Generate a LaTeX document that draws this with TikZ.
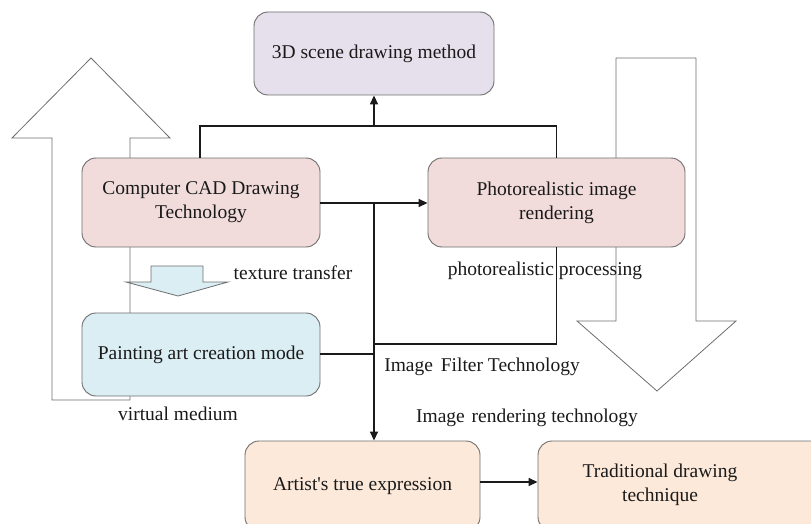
\documentclass[tikz,border=0pt]{standalone}
\usepackage{fontspec}
\setmainfont{Liberation Serif}
\usetikzlibrary{arrows.meta}

\definecolor{lavfill}{HTML}{E5E0EC}
\definecolor{rosefill}{HTML}{F2DCDB}
\definecolor{skyfill}{HTML}{DAEEF3}
\definecolor{peachfill}{HTML}{FDE9D9}
\definecolor{edgegray}{HTML}{6E6E6E}
\definecolor{inkblack}{HTML}{1A1A1A}

\tikzset{
  box/.style={draw=edgegray, line width=0.9pt, rounded corners=14pt, align=center,
              inner sep=0pt, text=inkblack, font=\fontsize{19.5}{24}\selectfont},
  lab/.style={inner sep=0pt, text=inkblack, font=\fontsize{19.5}{24}\selectfont},
  bigarrow/.style={draw=edgegray, fill=white, line width=0.8pt, line join=miter},
  conn/.style={draw=inkblack, line width=1.5pt},
  tipped/.style={conn, -{Triangle[length=9pt,width=8pt]}}
}

\begin{document}
\begin{tikzpicture}[x=1pt,y=-1pt]
\useasboundingbox (0,0) rectangle (811,524);
\clip (0,0) rectangle (811,524);

% hollow flow arrows behind the boxes
\draw[bigarrow] (52,400) -- (52,138) -- (12,138) -- (91,58) -- (170,138)
  -- (130,138) -- (130,400) -- cycle;
\draw[bigarrow] (616,58) -- (696,58) -- (696,321) -- (736,321) -- (657,391)
  -- (577,321) -- (616,321) -- cycle;

% boxes
\node[box, fill=lavfill, minimum width=240pt, minimum height=83pt] (scene) at (374,53.5)
  {3D scene drawing method};
\node[box, fill=rosefill, minimum width=238pt, minimum height=89pt] (cad) at (201,202.5)
  {Computer CAD Drawing\\Technology};
\node[box, fill=rosefill, minimum width=257pt, minimum height=89pt] (photo) at (556.5,202.5)
  {Photorealistic image\\rendering};
\node[box, fill=skyfill, minimum width=238pt, minimum height=83pt] (paint) at (201,354.5)
  {Painting art creation mode};
\node[box, fill=peachfill, minimum width=235pt, minimum height=90pt] (artist) at (362.5,486)
  {Artist\textquotesingle s true expression};
\node[box, fill=peachfill, minimum width=292pt, minimum height=90pt] (trad) at (684,486) {};
\node[lab, align=center] (tradtext) at (660,485) {Traditional drawing\\technique};

% texture transfer arrow
\draw[bigarrow, fill=skyfill] (151,266) -- (203,266) -- (203,282) -- (228,282)
  -- (178,296) -- (126,282) -- (151,282) -- cycle;

% junction points of the connectors
\coordinate (topbus) at (374,126);
\coordinate (midjoin) at (374,203);
\coordinate (lowjoin) at (374,344);
\coordinate (paintjoin) at (374,354);

% connectors
\draw[conn] (cad.north -| 200,0) |- (topbus) -| (photo.north);
\draw[tipped] (topbus) -- (scene.south);
\draw[tipped] (cad.east |- midjoin) -- (photo.west |- midjoin);
\draw[tipped] (midjoin) -- (artist.north -| midjoin);
\draw[conn] (photo.south) |- (lowjoin);
\draw[conn] (paint.east |- paintjoin) -- (paintjoin);
\draw[tipped] (artist.east |- 0,482) -- (trad.west |- 0,482);

% labels
\node[lab] (ltexture) at (293,273) {texture transfer};
\node[lab] (lphoto) at (545,271) {photorealistic processing};
\node[lab] (lfilter) at (482,367) {Image\hspace{3pt} Filter Technology};
\node[lab] (lrender) at (527,418) {Image\hspace{2pt} rendering technology};
\node[lab] (lvirtual) at (178,414) {virtual medium};
\end{tikzpicture}
\end{document}
